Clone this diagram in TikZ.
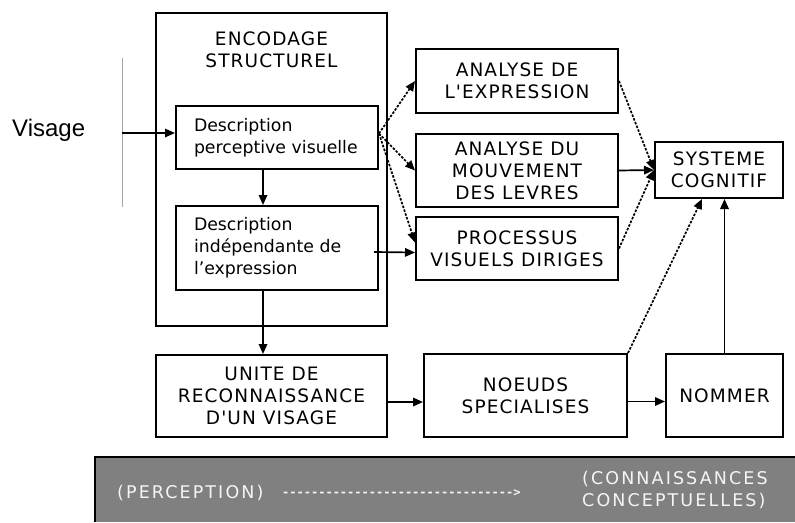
\documentclass[tikz,border=0pt]{standalone}
\usepackage{fontspec}
\usepackage{tikz}
\usetikzlibrary{arrows.meta}
\setmainfont{DejaVu Sans}
\newfontfamily\capsfont[LetterSpace=6]{DejaVu Sans}
\newfontfamily\bandfont[LetterSpace=12]{DejaVu Sans}
\newfontfamily\labelfont{Liberation Sans}
\newfontfamily\dashfont{DejaVu Sans Mono}
\definecolor{band}{RGB}{128,128,128}
\definecolor{bandtext}{RGB}{245,245,245}

\begin{document}
\begin{tikzpicture}[
        x=1pt, y=-1pt,
        % Style for the boxes
        outer box/.style={draw, line width=2pt, inner sep=0pt},
        caps box/.style={draw, line width=2pt, align=center, inner sep=0pt, font=\capsfont\fontsize{18.5}{22}\selectfont},
        desc box/.style={draw, line width=2pt, align=left, text width=166pt, inner xsep=18pt, inner ysep=0pt, font=\fontsize{17.3}{22}\selectfont},
        % Style for the text of the band
        band text/.style={text=bandtext, align=left, inner sep=0pt, font=\bandfont\fontsize{17.5}{22}\selectfont},
        arrow/.style={-{Triangle[length=10pt, width=8.5pt]}, line width=1.7pt},
        dotted arrow/.style={arrow, dash pattern=on 2.5pt off 1.5pt}
    ]
    \useasboundingbox (0,0) rectangle (795,522);

    % Encodage structurel
    \node[outer box, minimum width=231pt, minimum height=313pt] (structural) at (271.5,169.5) {};
    \node[font=\capsfont\fontsize{18.5}{22}\selectfont, align=center, inner sep=0pt] (title) at (271.5,49.5) {ENCODAGE\\STRUCTUREL};
    \node[desc box, minimum height=63pt] (perceptive) at (277,137.5) {Description\\perceptive visuelle};
    \node[desc box, minimum height=84pt] (independent) at (277,248) {Description\\indépendante de\\l'expression};

    % Input
    \node[font=\labelfont\fontsize{24}{28}\selectfont, anchor=base west, inner sep=0pt] (visage) at (12,136) {Visage};
    \draw[gray!70, line width=0.8pt] (122,58) -- (122,207);
    \coordinate (input) at (122,133);

    % Analysis nodes
    \node[caps box, minimum width=202pt, minimum height=64pt] (expression) at (517,81) {ANALYSE DE\\L'EXPRESSION};
    \node[caps box, minimum width=202pt, minimum height=73pt] (lips) at (517,170.5) {ANALYSE DU\\MOUVEMENT\\DES LEVRES};
    \node[caps box, minimum width=202pt, minimum height=63pt] (directed) at (517,248.5) {PROCESSUS\\VISUELS DIRIGES};
    \node[caps box, minimum width=128pt, minimum height=56pt] (cognitive) at (719,170) {SYSTEME\\COGNITIF};

    % Bottom row
    \node[caps box, minimum width=231pt, minimum height=82pt] (recognition) at (271.5,396) {UNITE DE\\RECONNAISSANCE\\D'UN VISAGE};
    \node[caps box, minimum width=203pt, minimum height=83pt] (nodes) at (525.5,395.5) {NOEUDS\\SPECIALISES};
    \node[caps box, minimum width=117pt, minimum height=83pt] (naming) at (724.5,395.5) {NOMMER};

    % Drawing arrows inside the structural encoding
    \draw[arrow] (input) -- (input -| perceptive.west);
    \draw[arrow] ([xshift=-14pt]perceptive.south) -- ([xshift=-14pt]independent.north);
    \draw[arrow] ([xshift=-14pt]independent.south) -- ([xshift=-14pt]independent.south |- recognition.north);

    % Drawing arrows to the analysis nodes
    \draw[dotted arrow] ([yshift=4pt]perceptive.east) -- (expression.west);
    \draw[dotted arrow] ([yshift=4pt]perceptive.east) -- (lips.west);
    \draw[dotted arrow] ([yshift=4pt]perceptive.east) -- ([yshift=6pt]directed.west);
    \draw[arrow] ([xshift=-5pt, yshift=-4pt]independent.east) -- ([yshift=-4pt]directed.west);

    % Drawing arrows to the cognitive system
    \draw[dotted arrow] (expression.east) -- (cognitive.west);
    \draw[arrow] (lips.east) -- (cognitive.west);
    \draw[dotted arrow] (directed.east) -- (cognitive.west);
    \draw[dotted arrow] (nodes.north east) -- ([xshift=-17pt]cognitive.south);
    \draw[arrow] (naming.north) -- (naming.north |- cognitive.south);

    % Drawing arrows of the bottom row
    \draw[arrow] ([yshift=-6pt]recognition.east) -- ([yshift=-6pt]recognition.east -| nodes.west);
    \draw[arrow] ([yshift=-6pt]nodes.east) -- ([yshift=-6pt]nodes.east -| naming.west);

    % Band
    \fill[band] (95,457) rectangle (795,522);
    \draw[line width=1.5pt] (95,522) |- (795,457);
    \node[band text, anchor=west] (perception) at (117,493) {(PERCEPTION)};
    \node[text=bandtext, font=\dashfont\bfseries\fontsize{12}{12}\selectfont, anchor=west, inner sep=0pt] (dashes) at (282,493) {\foreach \i in {1,...,32}{‐}>};
    \node[band text, anchor=west] (concepts) at (582,490) {(CONNAISSANCES\\CONCEPTUELLES)};
\end{tikzpicture}
\end{document}
